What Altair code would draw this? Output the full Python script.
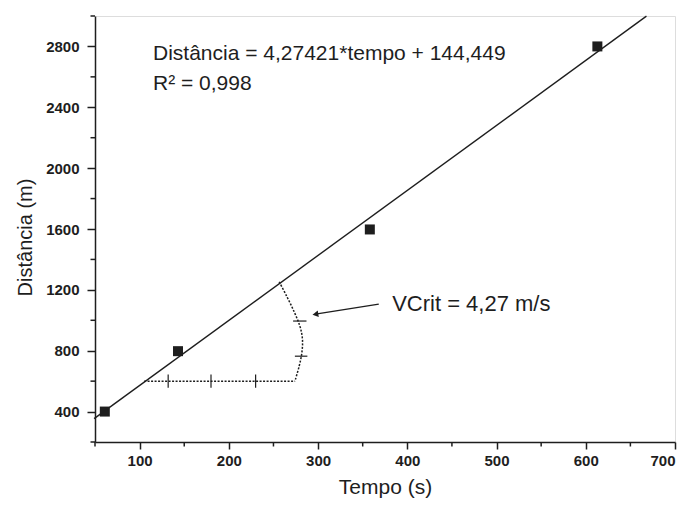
import altair as alt
import pandas as pd

# measured points
tempo = [61, 143, 358, 613]
distancia = [400, 797, 1597, 2800]

# fitted line ends
fit_x = [49, 668]
fit_y = [354, 2999]

# dotted horizontal leg
leg_x = [105, 274]
leg_y = [600, 600]
leg_tick_x = [132, 180, 230]

# dotted arc (data units)
arc_x = [256.4, 264.6, 272.8, 279.6, 282.5, 281.8, 278.8, 274]
arc_y = [1253, 1161, 1061, 962, 874, 786, 698, 599]
arc_tick_y = [995, 764]
arc_tick_x1 = [272, 274]
arc_tick_x2 = [287, 288]

# arrow
arrow_x = [368, 297]
arrow_y = [1106, 1040]

x_major = [100, 200, 300, 400, 500, 600, 700]
x_minor = [50, 150, 250, 350, 450, 550, 650]
y_major = [400, 800, 1200, 1600, 2000, 2400, 2800]
y_minor = [200, 600, 1000, 1400, 1800, 2200, 2600, 3000]

eq_lines = ["Distância = 4,27421*tempo + 144,449", "R² = 0,998"]
vcrit_label = "VCrit = 4,27 m/s"

W, H = 580, 426
INK = "#1e1e1e"
FONT = "Liberation Sans"

xs = alt.Scale(domain=[50, 700], nice=False, zero=False)
ys = alt.Scale(domain=[200, 3000], nice=False, zero=False)

xax = alt.Axis(values=x_major, title="Tempo (s)", grid=False, tickSize=7, format="d",
               tickWidth=1.5, domainWidth=1.5, domainColor=INK, tickColor=INK,
               labelFont=FONT, labelFontSize=15, labelFontWeight="bold", labelFlush=True,
               labelColor=INK, labelPadding=4, titleFont=FONT, titleFontSize=21,
               titleFontWeight="normal", titleColor=INK, titlePadding=8)
yax = alt.Axis(values=y_major, title="Distância (m)", grid=False, tickSize=8, format="d",
               tickWidth=1.5, domainWidth=1.5, domainColor=INK, tickColor=INK,
               labelFont=FONT, labelFontSize=15, labelFontWeight="bold",
               labelColor=INK, labelPadding=8, titleFont=FONT, titleFontSize=20,
               titleFontWeight="normal", titleColor=INK, titlePadding=10, titleY=221)

pts = pd.DataFrame({"t": tempo, "d": distancia})
base_pts = alt.Chart(pts).mark_square(size=100, color=INK, opacity=1).encode(
    x=alt.X("t:Q", scale=xs, axis=xax),
    y=alt.Y("d:Q", scale=ys, axis=yax),
)

fit = alt.Chart(pd.DataFrame({"t": fit_x, "d": fit_y})).mark_line(
    color=INK, strokeWidth=1.4).encode(x=alt.X("t:Q", scale=xs), y=alt.Y("d:Q", scale=ys))

leg = alt.Chart(pd.DataFrame({"t": leg_x, "d": leg_y})).mark_line(
    color=INK, strokeWidth=1.5, strokeDash=[2, 1.5]).encode(
    x=alt.X("t:Q", scale=xs), y=alt.Y("d:Q", scale=ys))

leg_ticks = alt.Chart(pd.DataFrame({"t": leg_tick_x})).mark_rule(
    color=INK, strokeWidth=1.2).encode(
    x=alt.X("t:Q", scale=xs), y=alt.datum(557, scale=ys), y2=alt.datum(643))

arc = alt.Chart(pd.DataFrame({"t": arc_x, "d": arc_y, "o": list(range(len(arc_x)))})).mark_line(
    color=INK, strokeWidth=1.5, strokeDash=[2, 1.5], interpolate="cardinal").encode(
    x=alt.X("t:Q", scale=xs), y=alt.Y("d:Q", scale=ys), order="o:O")

arc_ticks = alt.Chart(pd.DataFrame({"d": arc_tick_y, "a": arc_tick_x1, "b": arc_tick_x2})).mark_rule(
    color=INK, strokeWidth=1.2).encode(
    y=alt.Y("d:Q", scale=ys), x=alt.X("a:Q", scale=xs), x2="b:Q")

arrow = alt.Chart(pd.DataFrame({"t": arrow_x, "d": arrow_y})).mark_line(
    color=INK, strokeWidth=1.3).encode(x=alt.X("t:Q", scale=xs), y=alt.Y("d:Q", scale=ys))

head = alt.Chart(pd.DataFrame({"t": [arrow_x[1]], "d": [arrow_y[1]]})).mark_point(
    shape="triangle-left", size=45, filled=True, color=INK, opacity=1, angle=351).encode(
    x=alt.X("t:Q", scale=xs), y=alt.Y("d:Q", scale=ys))

eq = alt.Chart(pd.DataFrame({"t": [115, 115], "d": [2752, 2554], "txt": eq_lines})).mark_text(
    align="left", baseline="middle", font=FONT, fontSize=21, color=INK).encode(
    x=alt.X("t:Q", scale=xs), y=alt.Y("d:Q", scale=ys), text="txt:N")

vc = alt.Chart(pd.DataFrame({"t": [383], "d": [1105], "txt": [vcrit_label]})).mark_text(
    align="left", baseline="middle", font=FONT, fontSize=22, color=INK).encode(
    x=alt.X("t:Q", scale=xs), y=alt.Y("d:Q", scale=ys), text="txt:N")

xminor = alt.Chart(pd.DataFrame({"t": x_minor})).mark_rule(color=INK, strokeWidth=1.5).encode(
    x=alt.X("t:Q", scale=xs), y=alt.value(H), y2=alt.value(H + 4.5))
yminor = alt.Chart(pd.DataFrame({"d": y_minor})).mark_rule(color=INK, strokeWidth=1.5).encode(
    y=alt.Y("d:Q", scale=ys), x=alt.value(-4.5), x2=alt.value(0))

chart = alt.layer(base_pts, fit, leg, leg_ticks, arc, arc_ticks, arrow, head, eq, vc,
                  xminor, yminor).properties(
    width=W, height=H,
    autosize=alt.AutoSizeParams(type="none"),
    padding={"left": 87, "top": 8, "right": 3, "bottom": 58},
).configure_view(stroke=None).configure(background="white")

chart.save("out.html", embed_options={"renderer": "svg", "actions": False})
